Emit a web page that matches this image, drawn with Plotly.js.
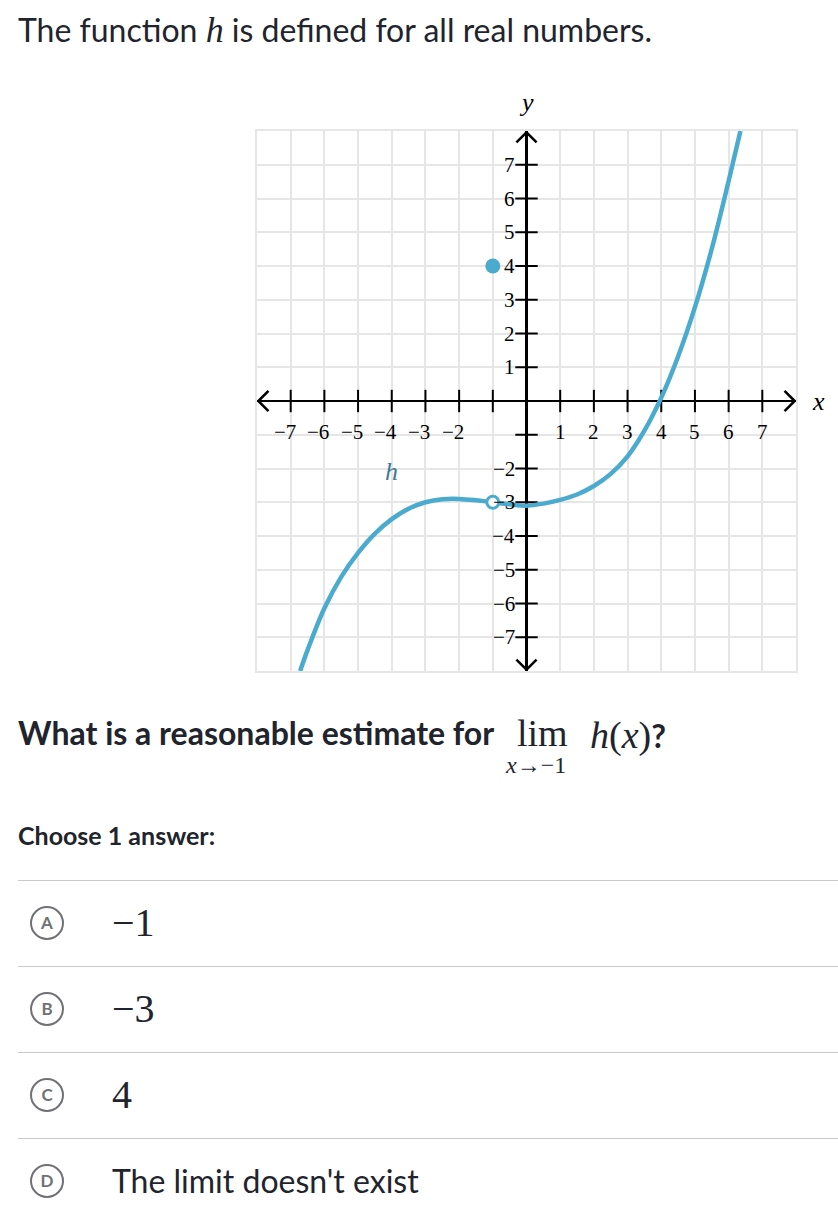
<!DOCTYPE html>
<html><head><meta charset="utf-8">
<script src="https://cdn.plot.ly/plotly-3.0.1.min.js"></script>
<style>
html,body{margin:0;padding:0;background:#fff;width:838px;height:1212px;overflow:hidden;}
body{position:relative;font-family:Lato,sans-serif;color:#21242c;}
.abs{position:absolute;white-space:nowrap;}
.serif{font-family:"Liberation Serif",serif;}
.it{font-family:"Liberation Serif",serif;font-style:italic;}
#chart{position:absolute;left:0;top:0;width:838px;height:720px;}
.sep{position:absolute;left:18px;width:820px;height:1px;background:#c8c9cc;}
.circ{position:absolute;box-sizing:border-box;width:34px;height:34px;border:2.5px solid #6f7175;border-radius:50%;color:#6f7175;font-family:Lato,sans-serif;font-weight:bold;font-size:17px;text-align:center;line-height:29px;}
.ans{position:absolute;left:112px;white-space:nowrap;}
</style></head><body>
<div id="chart"></div>

<div class="abs" style="left:18px;top:10px;font-size:32px;line-height:40px;">The function <span class="it" style="font-size:36px">h</span> is defined for all real numbers.</div>

<div class="abs" style="left:18px;top:713px;font-size:32px;line-height:40px;font-weight:bold;">What is a reasonable estimate for</div>
<div class="abs serif" style="left:517px;top:715px;font-size:38px;line-height:36px;">lim</div>
<div class="abs serif" style="left:506px;top:753px;font-size:24px;line-height:25px;"><i>x</i>→−1</div>
<div class="abs" style="left:590px;top:715px;font-size:38px;line-height:36px;"><span class="it">h</span><span class="serif">(</span><span class="it">x</span><span class="serif">)</span><span style="font-family:Lato;font-weight:bold;font-size:32px;">?</span></div>

<div class="abs" style="left:18px;top:820px;font-size:25px;line-height:30px;font-weight:bold;">Choose 1 answer:</div>

<div class="sep" style="top:880px"></div>
<div class="sep" style="top:966px"></div>
<div class="sep" style="top:1052px"></div>
<div class="sep" style="top:1138px"></div>

<div class="circ" style="left:30px;top:906px">A</div>
<div class="circ" style="left:30px;top:992px">B</div>
<div class="circ" style="left:30px;top:1078px">C</div>
<div class="circ" style="left:30px;top:1164px">D</div>

<div class="ans serif" style="top:900px;font-size:40px;line-height:46px;">−1</div>
<div class="ans serif" style="top:986px;font-size:40px;line-height:46px;">−3</div>
<div class="ans serif" style="top:1072px;font-size:40px;line-height:46px;">4</div>
<div class="ans" style="top:1161px;font-size:32px;line-height:40px;">The limit doesn't exist</div>

<script>
// ---- data ----
const curveX = [-6.72, -6.5, -6, -5.5, -5, -4.5, -4, -3.5, -3, -2.5, -2, -1.5, -1, -0.5, 0, 0.5, 1, 1.5, 2, 2.5, 3, 3.5, 4, 4.5, 5, 5.5, 6, 6.35];
const curveY = [-8.0, -7.38, -6.14, -5.21, -4.5, -3.93, -3.5, -3.19, -3.0, -2.91, -2.9, -2.94, -3.0, -3.06, -3.1, -3.04, -2.93, -2.77, -2.52, -2.16, -1.64, -0.88, 0.1, 1.32, 2.78, 4.51, 6.52, 8.0];
const solidX = [-1];
const solidY = [4];
const openX = [-1];
const openY = [-3];
const xTickVals = [-7, -6, -5, -4, -3, -2, -1, 1, 2, 3, 4, 5, 6, 7];
const yTickVals = [-7, -6, -5, -4, -3, -2, -1, 1, 2, 3, 4, 5, 6, 7];
const xLabelVals = [-7, -6, -5, -4, -3, -2, 1, 2, 3, 4, 5, 6, 7];
const xLabelText = ['−7', '−6', '−5', '−4', '−3', '−2', '1', '2', '3', '4', '5', '6', '7'];
const yLabelVals = [7, 6, 5, 4, 3, 2, 1, -2, -3, -4, -5, -6, -7];
const yLabelText = ['7', '6', '5', '4', '3', '2', '1', '−2', '−3', '−4', '−5', '−6', '−7'];
const axisRange = [-8, 8];

const blue = '#4aabcf';
const labelFont = {family: 'Liberation Serif, serif', size: 21, color: '#000'};

// arrow chevrons at the ends of the axes
const aTip = 7.96, aBack = 7.66, aWide = 0.3;
const arrowX = [-aWide, 0, aWide, null, -aWide, 0, aWide, null, aBack, aTip, aBack, null, -aBack, -aTip, -aBack];
const arrowY = [aBack, aTip, aBack, null, -aBack, -aTip, -aBack, null, aWide, 0, -aWide, null, aWide, 0, -aWide];

const traces = [
  {x: arrowX, y: arrowY, mode: 'lines', line: {color: '#000', width: 2.5}, hoverinfo: 'skip', cliponaxis: false},
  {x: xTickVals, y: xTickVals.map(() => 0), mode: 'markers',
   marker: {symbol: 'line-ns-open', size: 16, color: '#000', line: {color: '#000', width: 2}}, hoverinfo: 'skip'},
  {x: yTickVals.map(() => 0), y: yTickVals, mode: 'markers',
   marker: {symbol: 'line-ew-open', size: 16, color: '#000', line: {color: '#000', width: 2}}, hoverinfo: 'skip'},
  {x: curveX, y: curveY, mode: 'lines', line: {color: blue, width: 4.5, shape: 'spline', smoothing: 1}, hoverinfo: 'skip'},
  {x: solidX, y: solidY, mode: 'markers', marker: {color: blue, size: 15}, hoverinfo: 'skip', cliponaxis: false},
  {x: openX, y: openY, mode: 'markers', marker: {color: '#fff', size: 12, line: {color: blue, width: 3}}, hoverinfo: 'skip', cliponaxis: false}
];

const annotations = [];
xLabelVals.forEach((v, i) => {
  const neg = v < 0;
  annotations.push({x: v, y: 0, xref: 'x', yref: 'y', text: xLabelText[i], showarrow: false,
    xanchor: neg ? 'right' : 'center', xshift: neg ? 7 : 0, yanchor: 'middle', yshift: -31, font: labelFont});
});
yLabelVals.forEach((v, i) => {
  annotations.push({x: 0, y: v, xref: 'x', yref: 'y', text: yLabelText[i], showarrow: false,
    xanchor: 'right', xshift: -10, yanchor: 'middle', font: labelFont});
});
annotations.push({x: -4, y: -2.1, xref: 'x', yref: 'y', text: '<i>h</i>', showarrow: false,
  font: {family: 'Liberation Serif, serif', size: 26, color: '#3f7a91'}});
annotations.push({x: 1.041, y: 0, xref: 'paper', yref: 'y', text: '<i>x</i>', showarrow: false,
  xanchor: 'center', yanchor: 'middle', font: {family: 'Liberation Serif, serif', size: 26, color: '#000'}});
annotations.push({x: 0, y: 1.053, xref: 'x', yref: 'paper', text: '<i>y</i>', showarrow: false,
  xanchor: 'center', yanchor: 'middle', font: {family: 'Liberation Serif, serif', size: 26, color: '#000'}});

const axisCommon = {
  range: axisRange, tick0: 0, dtick: 1, showgrid: true, gridcolor: '#e6e6e6', gridwidth: 2,
  zeroline: true, zerolinecolor: '#000', zerolinewidth: 2.5,
  showline: true, mirror: true, linecolor: '#e6e6e6', linewidth: 2,
  showticklabels: false, ticks: '', fixedrange: true
};

const layout = {
  width: 838, height: 720,
  margin: {l: 257, r: 42, t: 131, b: 49},
  paper_bgcolor: '#fff', plot_bgcolor: '#fff',
  showlegend: false,
  xaxis: Object.assign({}, axisCommon),
  yaxis: Object.assign({}, axisCommon),
  annotations: annotations
};

Plotly.newPlot('chart', traces, layout, {displayModeBar: false, staticPlot: true});
</script>
</body></html>
